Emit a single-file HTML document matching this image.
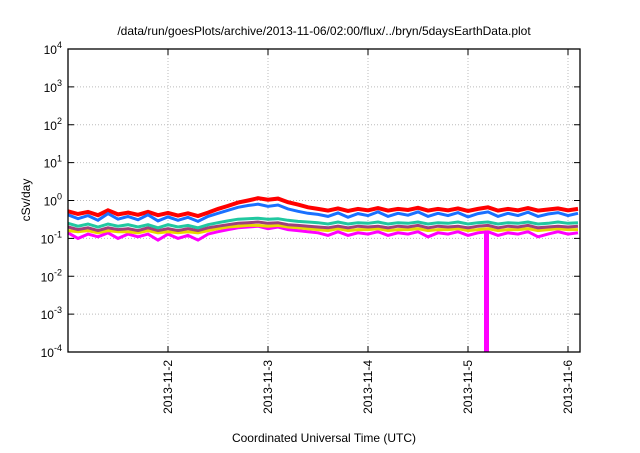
<!DOCTYPE html>
<html><head><meta charset="utf-8"><style>
body{margin:0;background:#fff;}
svg text{font-family:"Liberation Sans",sans-serif;fill:#000;}
</style></head><body>
<svg width="640" height="448" id="c">
<text x="324" y="35" font-size="12" text-anchor="middle">/data/run/goesPlots/archive/2013-11-06/02:00/flux/../bryn/5daysEarthData.plot</text>
<text x="324" y="442" font-size="12" text-anchor="middle">Coordinated Universal Time (UTC)</text>
<text transform="translate(30,200) rotate(-90)" font-size="12" text-anchor="middle">cSv/day</text>
<g id="grid"></g><g id="series"></g><g id="axes"></g>
</svg>
<script>
const xTickLabels=["2013-11-2","2013-11-3","2013-11-4","2013-11-5","2013-11-6"];
const xTickDays=[1,2,3,4,5];
const yTickExps=[-4,-3,-2,-1,0,1,2,3,4];
const step=0.1;
const red=[0.52,0.44,0.5,0.41,0.55,0.43,0.48,0.42,0.5,0.41,0.47,0.4,0.46,0.39,0.48,0.6,0.72,0.88,1.0,1.15,1.05,1.12,0.9,0.78,0.66,0.6,0.54,0.62,0.53,0.6,0.55,0.63,0.54,0.6,0.56,0.64,0.54,0.6,0.55,0.62,0.53,0.6,0.66,0.54,0.6,0.55,0.63,0.54,0.58,0.62,0.55,0.6];
const blue=[0.42,0.33,0.4,0.3,0.45,0.32,0.38,0.31,0.42,0.29,0.37,0.3,0.36,0.28,0.38,0.46,0.55,0.66,0.74,0.8,0.7,0.76,0.6,0.52,0.46,0.43,0.38,0.47,0.36,0.45,0.4,0.5,0.38,0.46,0.41,0.5,0.38,0.46,0.4,0.48,0.37,0.45,0.5,0.38,0.46,0.4,0.49,0.38,0.44,0.48,0.4,0.46];
const teal=[0.25,0.21,0.24,0.2,0.24,0.21,0.23,0.2,0.23,0.19,0.23,0.2,0.22,0.19,0.23,0.26,0.29,0.32,0.33,0.34,0.32,0.33,0.3,0.28,0.27,0.26,0.24,0.27,0.24,0.26,0.25,0.27,0.24,0.26,0.25,0.27,0.24,0.26,0.25,0.27,0.24,0.26,0.27,0.24,0.26,0.25,0.27,0.24,0.25,0.27,0.25,0.26];
const purple=[0.2,0.17,0.19,0.16,0.19,0.17,0.18,0.16,0.19,0.16,0.18,0.16,0.18,0.16,0.19,0.21,0.23,0.25,0.26,0.27,0.25,0.26,0.23,0.22,0.21,0.2,0.19,0.21,0.19,0.21,0.2,0.21,0.19,0.21,0.2,0.22,0.19,0.21,0.2,0.21,0.19,0.21,0.22,0.19,0.21,0.2,0.22,0.19,0.2,0.21,0.2,0.21];
const yellow=[0.16,0.15,0.16,0.14,0.16,0.15,0.15,0.14,0.16,0.14,0.15,0.14,0.15,0.14,0.16,0.18,0.2,0.21,0.22,0.22,0.21,0.22,0.2,0.19,0.18,0.17,0.16,0.18,0.16,0.17,0.17,0.18,0.16,0.17,0.17,0.18,0.16,0.17,0.17,0.18,0.16,0.17,0.18,0.16,0.17,0.17,0.18,0.16,0.17,0.18,0.17,0.17];
const magenta=[0.14,0.1,0.13,0.11,0.14,0.1,0.13,0.11,0.13,0.09,0.13,0.1,0.12,0.09,0.13,0.15,0.17,0.19,0.2,0.21,0.18,0.2,0.17,0.16,0.15,0.14,0.12,0.15,0.12,0.14,0.13,0.15,0.12,0.14,0.13,0.15,0.11,0.14,0.13,0.15,0.12,0.14,0.15,0.12,0.14,0.13,0.15,0.11,0.13,0.15,0.13,0.14];
const dropoutStart=4.16, dropoutEnd=4.21;
const L=68,R=580,T=49,B=352,D0=0,D1=5.12;
const X=d=>L+(d-D0)/(D1-D0)*(R-L);
const Y=v=>B-(Math.log10(v)+4)/8*(B-T);
const NS="http://www.w3.org/2000/svg";
function mk(tag,attrs,parent){const e=document.createElementNS(NS,tag);for(const k in attrs)e.setAttribute(k,attrs[k]);parent.appendChild(e);return e;}
const grid=document.getElementById('grid'),ax=document.getElementById('axes'),sg=document.getElementById('series');
yTickExps.forEach(p=>{const y=Y(Math.pow(10,p));
 if(p>-4&&p<4){const g=mk('line',{x1:L,x2:R,y1:y,y2:y,stroke:'#bbb','stroke-dasharray':'1,2'},grid);
 
 }
 const t1=mk('line',{x1:L,x2:L+6,y1:y,y2:y,stroke:'#000'},ax);
 
 
 mk('line',{x1:R,x2:R-6,y1:y,y2:y,stroke:'#000'},ax);
 const tx=mk('text',{x:L-6,y:y+5,'font-size':'12','text-anchor':'end'},ax);
 
 
 tx.textContent='10';const s=mk('tspan',{dy:'-6','font-size':'9'},tx);s.textContent=String(p);
});
xTickDays.forEach((d,i)=>{const x=X(d);
 const g=mk('line',{x1:x,x2:x,y1:T,y2:B,stroke:'#bbb','stroke-dasharray':'1,2'},grid);
 
 
 mk('line',{x1:x,x2:x,y1:B,y2:B-6,stroke:'#000'},ax);
 mk('line',{x1:x,x2:x,y1:T,y2:T+6,stroke:'#000'},ax);
 const tx=mk('text',{transform:`translate(${x+4},${B+8}) rotate(-90)`,'font-size':'12','text-anchor':'end'},ax);
 
 
 tx.textContent=xTickLabels[i];
});
const fr=mk('rect',{x:L,y:T,width:R-L,height:B-T,fill:'none',stroke:'#000','stroke-width':1.3},ax);


const defs=[[magenta,'#ff00ff','magenta-series'],[yellow,'#e8d800','yellow-series'],[purple,'#a0407a','purple-series'],[teal,'#20c8a0','teal-series'],[red,'#ff0000','red-series'],[blue,'#1a70ff','blue-series']];
defs.forEach(([arr,col,name])=>{
 const pts=arr.map((v,i)=>X(i*step).toFixed(1)+','+Y(v).toFixed(1)).join(' ');
 const pl=mk('polyline',{points:pts,fill:'none',stroke:col,'stroke-width':name==='red-series'?4:3,'stroke-linejoin':'miter'},sg);
 
 
});
const dr=mk('rect',{x:X(dropoutStart),y:Y(magenta[42]),width:X(dropoutEnd)-X(dropoutStart),height:B-Y(magenta[42]),fill:'#ff00ff'},sg);


</script>
</body></html>
